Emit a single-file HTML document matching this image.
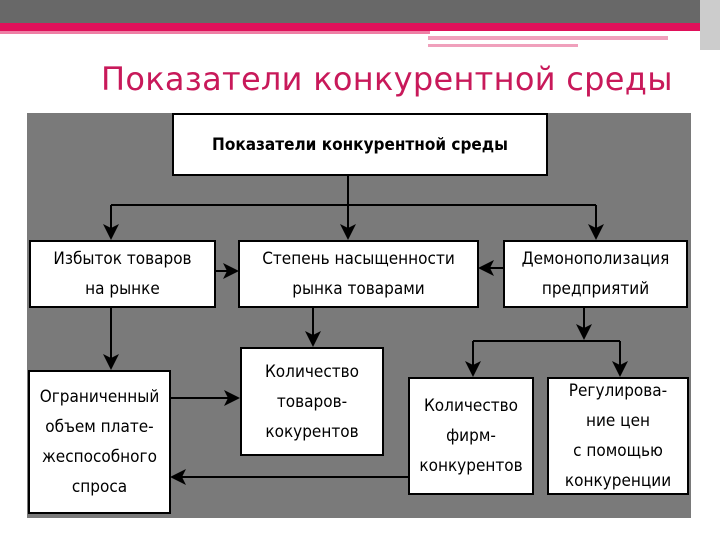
<!DOCTYPE html>
<html><head><meta charset="utf-8"><style>
body{margin:0;width:720px;height:540px;background:#fff;position:relative;overflow:hidden;font-family:"DejaVu Sans Condensed","Liberation Sans",sans-serif}
.b{position:absolute;background:#fff;border:2px solid #000;box-sizing:border-box;display:flex;align-items:center;justify-content:center;text-align:center;font-size:17px;line-height:30px;color:#000}
</style></head><body>
<div style="position:absolute;left:0;top:0;width:720px;height:23px;background:#686868"></div>
<div style="position:absolute;left:0;top:23px;width:720px;height:8px;background:#e0105a"></div>
<div style="position:absolute;left:0;top:31px;width:430px;height:3px;background:#ee7fa5"></div>
<div style="position:absolute;left:428px;top:36px;width:240px;height:4px;background:#f0a0bc"></div>
<div style="position:absolute;left:428px;top:44px;width:150px;height:3px;background:#f0a0bc"></div>
<div style="position:absolute;left:700px;top:0;width:20px;height:50px;background:#ccc"></div>
<div style="position:absolute;left:101px;top:60px;font-family:'DejaVu Sans','Liberation Sans',sans-serif;font-size:32px;color:#c8195a;letter-spacing:0.3px">Показатели конкурентной среды</div>
<div style="position:absolute;left:27px;top:113px;width:664px;height:405px;background:#7a7a7a"></div>
<svg style="position:absolute;left:0;top:0" width="720" height="540">
<defs><marker id="a" markerWidth="8" markerHeight="8" refX="7" refY="4" orient="auto"><path d="M0,0L8,4L0,8L2,4z" fill="#000"/></marker></defs>
<g stroke="#000" stroke-width="2" fill="none">
<path d="M348,175V205M111,205H596"/>
<path d="M111,205V238" marker-end="url(#a)"/>
<path d="M348,205V238" marker-end="url(#a)"/>
<path d="M596,205V238" marker-end="url(#a)"/>
<path d="M215,271H237" marker-end="url(#a)"/>
<path d="M503,268H480" marker-end="url(#a)"/>
<path d="M111,307V368" marker-end="url(#a)"/>
<path d="M313,307V345" marker-end="url(#a)"/>
<path d="M584,307V338"/>
<path d="M584,324V338" marker-end="url(#a)"/>
<path d="M473,341H620"/>
<path d="M473,341V375" marker-end="url(#a)"/>
<path d="M620,341V375" marker-end="url(#a)"/>
<path d="M170,398H238" marker-end="url(#a)"/>
<path d="M408,477H172" marker-end="url(#a)"/>
</g></svg>
<div class="b" style="left:172px;top:113px;width:376px;height:63px;font-weight:bold">Показатели конкурентной среды</div>
<div class="b" style="left:29px;top:240px;width:187px;height:68px">Избыток товаров<br>на рынке</div>
<div class="b" style="left:238px;top:240px;width:241px;height:68px">Степень насыщенности<br>рынка товарами</div>
<div class="b" style="left:503px;top:240px;width:185px;height:68px">Демонополизация<br>предприятий</div>
<div class="b" style="left:28px;top:370px;width:143px;height:144px">Ограниченный<br>объем плате-<br>жеспособного<br>спроса</div>
<div class="b" style="left:240px;top:347px;width:144px;height:109px">Количество<br>товаров-<br>кокурентов</div>
<div class="b" style="left:408px;top:377px;width:126px;height:118px">Количество<br>фирм-<br>конкурентов</div>
<div class="b" style="left:547px;top:377px;width:142px;height:118px">Регулирова-<br>ние цен<br>с помощью<br>конкуренции</div>
</body></html>
